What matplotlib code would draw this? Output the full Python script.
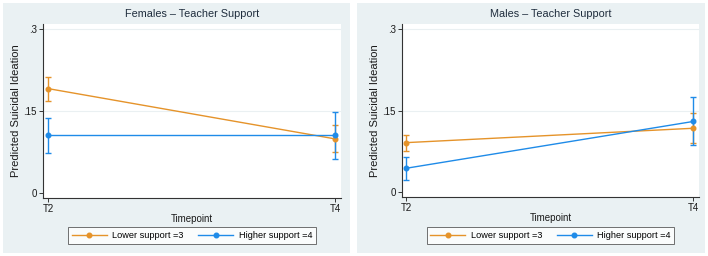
import numpy as np
import matplotlib
matplotlib.use("Agg")
import matplotlib.pyplot as plt
from matplotlib.patches import Rectangle

plt.rcParams['font.family'] = ['Liberation Sans', 'DejaVu Sans']

timepoints = ['T2', 'T4']
titles = ['Females \u2013 Teacher Support', 'Males \u2013 Teacher Support']
labels = ['Lower support =3', 'Higher support =4']

# predicted values and 95% CI (T2, T4)
fem_low = [0.191, 0.099]
fem_low_lo = [0.169, 0.0755]
fem_low_hi = [0.212, 0.124]
fem_high = [0.1055, 0.1055]
fem_high_lo = [0.073, 0.062]
fem_high_hi = [0.137, 0.148]

mal_low = [0.091, 0.1175]
mal_low_lo = [0.076, 0.090]
mal_low_hi = [0.106, 0.146]
mal_high = [0.0437, 0.130]
mal_high_lo = [0.022, 0.0867]
mal_high_hi = [0.064, 0.1746]

panels = [
    [(fem_low, fem_low_lo, fem_low_hi), (fem_high, fem_high_lo, fem_high_hi)],
    [(mal_low, mal_low_lo, mal_low_hi), (mal_high, mal_high_lo, mal_high_hi)],
]

colors = ['#E5932A', '#1F8BE8']
bg = '#EAF1F3'
textc = '#1a1a1a'
W, H = 708, 256

fig = plt.figure(figsize=(7.08, 2.56), dpi=100, facecolor='white')

def fx(px):
    return px / W

def fy(py):
    return 1 - py / H

# panel backgrounds
for x0, x1 in [(3, 350), (357, 705)]:
    fig.patches.append(Rectangle((fx(x0), fy(253)), fx(x1 - x0), 250 / H,
                                 transform=fig.transFigure, facecolor=bg,
                                 edgecolor='none', zorder=-5))

# axes: (left px, right px, top px, bottom px, T2 px, T4 px, y0 px, y.3 px)
geo = [(43, 341, 24, 198, 48, 335, 193, 29),
       (402, 699, 24, 197, 406, 693, 192, 29.3)]
legx = [(72 + 312) / 2, (431 + 670) / 2]

x = np.array([0, 1])
for i, (g, groups) in enumerate(zip(geo, panels)):
    l, r, t, b, t2, t4, y0, y3 = g
    ax = fig.add_axes([fx(l), fy(b), fx(r - l), (b - t) / H])
    ax.set_facecolor('white')
    xs = (t4 - t2)
    ax.set_xlim((l - t2) / xs, (r - t2) / xs)
    ys = (y0 - y3) / 0.3
    ax.set_ylim(-(b - y0) / ys, 0.3 + (y3 - t) / ys)
    for spine in ['top', 'right']:
        ax.spines[spine].set_visible(False)
    for spine in ['left', 'bottom']:
        ax.spines[spine].set_color('#333333')
        ax.spines[spine].set_linewidth(0.8)
    ax.set_yticks([0, 0.15, 0.3])
    ax.set_yticklabels(['0', '.15', '.3'])
    ax.set_xticks(x)
    ax.set_xticklabels(timepoints)
    ax.tick_params(labelsize=7, colors=textc, length=3, width=0.6, pad=1.5)
    for yv in [0.15, 0.3]:
        ax.axhline(yv, color='#EAF0F2', lw=0.8, zorder=0)
    handles = []
    for (vals, lo, hi), c, lab in zip(groups, colors, labels):
        vals = np.array(vals)
        err = [vals - np.array(lo), np.array(hi) - vals]
        ax.errorbar(x, vals, yerr=err, fmt='none', ecolor=c, elinewidth=1.0,
                    capsize=2.2, capthick=1.0, zorder=3)
        h, = ax.plot(x, vals, color=c, lw=1.0, marker='o', ms=3.3, zorder=4,
                     label=lab)
        handles.append(h)
    ax.set_title(titles[i], fontsize=7.8, color='#1f2d3d', pad=5)
    ax.set_xlabel('Timepoint', fontsize=7, color=textc, labelpad=0)
    ax.set_ylabel('Predicted Suicidal Ideation', fontsize=8, color=textc,
                  labelpad=2)
    leg = fig.legend(handles=handles, loc='center',
                     bbox_to_anchor=(fx(legx[i]), fy(235.5)), ncol=2,
                     fontsize=6.6, frameon=True, fancybox=False,
                     edgecolor='#333333', handlelength=3.8, columnspacing=1.6,
                     borderpad=0.4, handletextpad=0.6)
    leg.get_frame().set_linewidth(0.6)

fig.savefig('out.png', dpi=100, facecolor='white')
